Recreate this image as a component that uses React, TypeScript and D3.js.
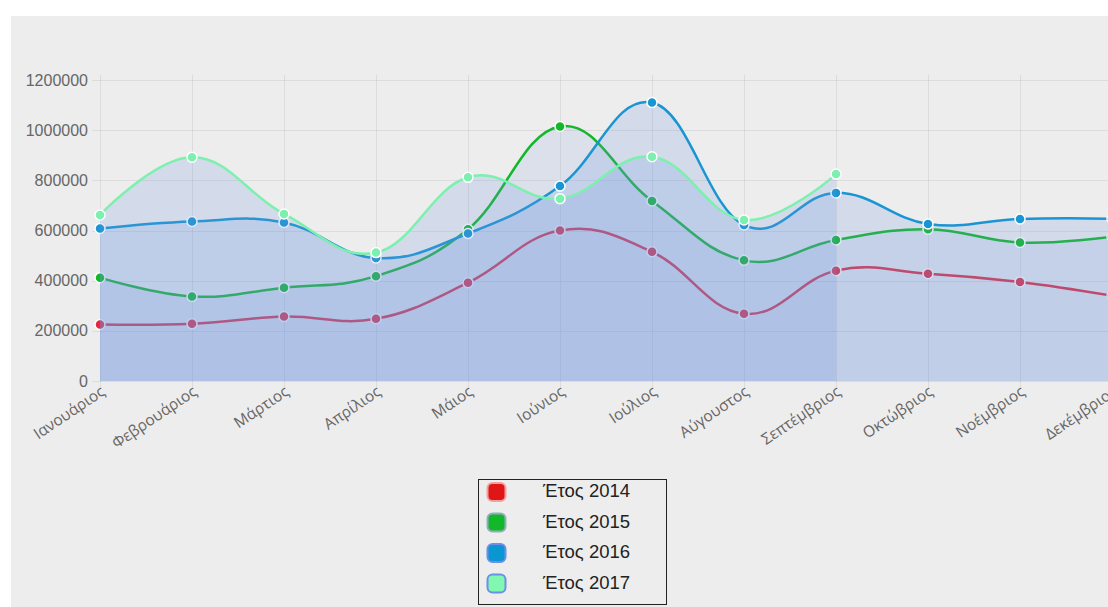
import * as d3 from "d3";
import { useEffect, useRef } from "react";

const months = ["Ιανουάριος", "Φεβρουάριος", "Μάρτιος", "Απρίλιος", "Μάιος", "Ιούνιος", "Ιούλιος", "Αύγουστος", "Σεπτέμβριος", "Οκτώβριος", "Νοέμβριος", "Δεκέμβριος"];
const years = ["Έτος 2014", "Έτος 2015", "Έτος 2016", "Έτος 2017"];
const y2014 = [225000, 228000, 257000, 248000, 392000, 600000, 515000, 268000, 440000, 428000, 395000, 340000];
const y2015 = [412000, 337000, 372000, 418000, 605000, 1015000, 718000, 481000, 562000, 605000, 552000, 575000];
const y2016 = [608000, 636000, 632000, 490000, 588000, 777000, 1110000, 622000, 750000, 626000, 646000, 647000];
const y2017 = [662000, 892000, 666000, 512000, 812000, 727000, 894000, 642000, 825000];
const yTicks = [0, 200000, 400000, 600000, 800000, 1000000, 1200000];

const lineColors = ["#e3283a", "#13b72a", "#1a95d3", "#7cf0ae"];
const swatchColors = ["#e01515", "#13b72a", "#0a96d2", "#80f8b0"];
const fillAlpha = [0.05, 0.14, 0.2, 0.2];
const swatchBorders = ["#f0a0a0", "#8fb0b8", "#6a90e8", "#6a90e8"];

const App = () => {
    const ref = useRef<SVGSVGElement | null>(null);

    useEffect(() => {
        document.body.style.margin = "0";
        const svg = d3.select(ref.current);
        svg.selectAll("*").remove();

        const width = 1108, height = 607;
        const series = [y2014, y2015, y2016, y2017];

        // background panel
        svg.append("rect").attr("width", width).attr("height", height).attr("fill", "#ffffff");
        svg.append("rect").attr("x", 11).attr("y", 16).attr("width", width - 11).attr("height", height - 16).attr("fill", "#ededed");

        const x = d3.scalePoint<string>().domain(months).range([100, 1112]);
        const y = d3.scaleLinear().domain([0, 1200000]).range([381, 80]);

        // grid
        const grid = svg.append("g").attr("stroke", "rgba(0,0,0,0.07)").attr("stroke-width", 1);
        grid.selectAll("line.h").data(yTicks).enter().append("line")
            .attr("x1", 92).attr("x2", width)
            .attr("y1", d => Math.round(y(d)) + 0.5).attr("y2", d => Math.round(y(d)) + 0.5);
        grid.selectAll("line.v").data(months).enter().append("line")
            .attr("x1", d => x(d)! + 0.5).attr("x2", d => x(d)! + 0.5)
            .attr("y1", 75).attr("y2", 389);

        // y labels
        svg.append("g")
            .attr("font-family", "'Liberation Sans', Arial, sans-serif")
            .attr("font-size", 16)
            .attr("fill", "#666")
            .attr("text-anchor", "end")
            .selectAll("text").data(yTicks).enter().append("text")
            .attr("x", 88).attr("y", d => y(d) + 5.5)
            .text(d => String(d));

        // x labels
        svg.append("g")
            .attr("font-family", "'Open Sans', sans-serif")
            .attr("font-size", 15.5)
            .attr("fill", "#666")
            .attr("text-anchor", "end")
            .selectAll("text").data(months).enter().append("text")
            .attr("transform", d => `translate(${x(d)! + 6},${394}) rotate(-34)`)
            .text(d => d);

        const curve = d3.curveCardinal.tension(-0.2);

        series.forEach((vals, i) => {
            const pts = vals.map((v, j) => [x(months[j])!, y(v)] as [number, number]);
            const area = d3.area<[number, number]>().x(d => d[0]).y0(y(0)).y1(d => d[1]).curve(curve);
            const line = d3.line<[number, number]>().x(d => d[0]).y(d => d[1]).curve(curve);
            svg.append("path").attr("d", area(pts)).attr("fill", `rgba(110,150,225,${fillAlpha[i]})`);
            svg.append("path").attr("d", line(pts)).attr("fill", "none")
                .attr("stroke", lineColors[i]).attr("stroke-width", 2.5);
            svg.append("g").selectAll("circle").data(pts).enter().append("circle")
                .attr("cx", d => d[0]).attr("cy", d => d[1]).attr("r", 5)
                .attr("fill", lineColors[i]).attr("stroke", "#fff").attr("stroke-width", 1.5);
        });

        // legend
        const lg = svg.append("g");
        lg.append("rect").attr("x", 478.5).attr("y", 479.5).attr("width", 188).attr("height", 125)
            .attr("fill", "none").attr("stroke", "#222").attr("stroke-width", 1);
        const items = lg.selectAll("g.item").data(years).enter().append("g")
            .attr("transform", (d, i) => `translate(0,${i * 30.5})`);
        items.append("rect").attr("x", 487.5).attr("y", 483).attr("width", 18).attr("height", 18)
            .attr("rx", 5).attr("fill", (d, i) => swatchColors[i])
            .attr("stroke", (d, i) => swatchBorders[i]).attr("stroke-width", 2);
        items.append("text").attr("x", 543).attr("y", 497)
            .attr("font-family", "'Liberation Sans', Arial, sans-serif")
            .attr("font-size", 18.5).attr("fill", "#222")
            .text(d => d);
    }, []);

    return <svg ref={ref} width={1108} height={607} style={{ display: "block", position: "absolute", left: 0, top: 0 }} />;
};

export default App;
